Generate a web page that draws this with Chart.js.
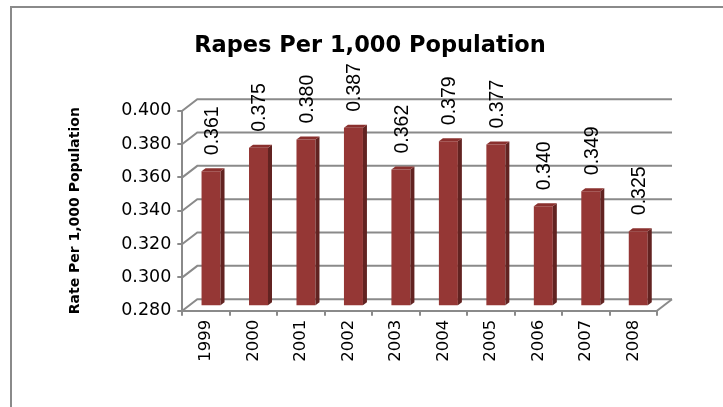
<!DOCTYPE html>
<html>
<head>
<meta charset="utf-8">
<title>Rapes Per 1,000 Population</title>
<script src="https://cdn.jsdelivr.net/npm/chart.js@4/dist/chart.umd.min.js"></script>
<style>
  html, body { margin: 0; padding: 0; background: #fff; overflow: hidden; }
  #frame {
    position: absolute; left: 10px; top: 6px; width: 800px; height: 500px;
    border: 2px solid #8a8a8a; box-sizing: border-box;
  }
  #chart { position: absolute; left: 0; top: 0; }
</style>
</head>
<body>
<div id="frame"></div>
<canvas id="chart" width="723" height="407"></canvas>
<script>
// Annual rate per 1,000 population
const years = ['1999', '2000', '2001', '2002', '2003', '2004', '2005', '2006', '2007', '2008'];
const rates = [0.361, 0.375, 0.380, 0.387, 0.362, 0.379, 0.377, 0.340, 0.349, 0.325];

// Value axis range and step
const yMin = 0.28;
const yMax = 0.40;
const yStep = 0.02;

// Pseudo-3D geometry
const WALL = { x: 15, y: -11.5 };      // offset from front plane to back wall
const BAR_SHIFT = { x: 5, y: -4.5 };   // bars stand part-way into the floor
const BAR_DEPTH = { x: 4, y: -3 };     // thickness of each bar
const GRID = '#8a8a8a';
const FRONT = '#953735';
const SIDE = '#622321';
const TOP = '#8a302e';

const wall3d = {
  id: 'wall3d',
  beforeDatasetsDraw(chart) {
    const { ctx, chartArea: { left, right, bottom }, scales: { y } } = chart;
    ctx.save();
    ctx.strokeStyle = GRID;
    ctx.lineWidth = 2;
    y.ticks.forEach(t => {
      const py = y.getPixelForValue(t.value);
      ctx.beginPath();
      ctx.moveTo(left, py);
      ctx.lineTo(left + WALL.x, py + WALL.y);
      ctx.lineTo(right + WALL.x, py + WALL.y);
      ctx.stroke();
    });
    ctx.beginPath();
    ctx.moveTo(right, bottom);
    ctx.lineTo(right + WALL.x, bottom + WALL.y);
    ctx.stroke();
    ctx.restore();
  },
  beforeDatasetDraw(chart) {
    chart.ctx.save();
    chart.ctx.translate(BAR_SHIFT.x, BAR_SHIFT.y);
  },
  afterDatasetDraw(chart, args) {
    const ctx = chart.ctx;
    args.meta.data.forEach(bar => {
      const { x, y, base, width } = bar.getProps(['x', 'y', 'base', 'width'], true);
      const l = x - width / 2, r = x + width / 2;
      // side face
      ctx.fillStyle = SIDE;
      ctx.beginPath();
      ctx.moveTo(r, y);
      ctx.lineTo(r + BAR_DEPTH.x, y + BAR_DEPTH.y);
      ctx.lineTo(r + BAR_DEPTH.x, base + BAR_DEPTH.y);
      ctx.lineTo(r, base);
      ctx.closePath();
      ctx.fill();
      // top face
      ctx.fillStyle = TOP;
      ctx.beginPath();
      ctx.moveTo(l, y);
      ctx.lineTo(l + BAR_DEPTH.x, y + BAR_DEPTH.y);
      ctx.lineTo(r + BAR_DEPTH.x, y + BAR_DEPTH.y);
      ctx.lineTo(r, y);
      ctx.closePath();
      ctx.fill();
    });
    ctx.restore();
  },
  afterDatasetsDraw(chart) {
    const ctx = chart.ctx;
    const meta = chart.getDatasetMeta(0);
    ctx.save();
    ctx.font = '19.5px "Liberation Sans", Arial, sans-serif';
    ctx.fillStyle = '#000';
    ctx.textAlign = 'left';
    ctx.textBaseline = 'middle';
    meta.data.forEach((bar, i) => {
      const v = chart.data.datasets[0].data[i];
      ctx.save();
      ctx.translate(bar.x + BAR_SHIFT.x + 1.5, bar.y + BAR_SHIFT.y - 16);
      ctx.rotate(-Math.PI / 2);
      ctx.fillText(v.toFixed(3), 0, 0);
      ctx.restore();
    });
    ctx.restore();
  }
};

new Chart(document.getElementById('chart'), {
  type: 'bar',
  data: {
    labels: years,
    datasets: [{
      data: rates,
      base: yMin,
      backgroundColor: FRONT,
      borderWidth: 0,
      categoryPercentage: 1,
      barPercentage: 0.4,
      clip: false
    }]
  },
  options: {
    responsive: false,
    animation: false,
    devicePixelRatio: 1,
    layout: { padding: { left: 17, right: 0, top: 0, bottom: 0 } },
    plugins: {
      legend: { display: false },
      tooltip: { enabled: false },
      title: {
        display: true,
        text: 'Rapes Per 1,000 Population',
        color: '#000',
        font: { family: '"DejaVu Sans", sans-serif', weight: 'bold', size: 22.5 },
        padding: { top: 32.7, bottom: 51 }
      }
    },
    scales: {
      x: {
        grid: {
          display: true, drawOnChartArea: false, drawTicks: true,
          tickLength: 5, color: GRID, lineWidth: 2
        },
        border: { display: true, color: GRID, width: 2 },
        ticks: {
          color: '#000', autoSkip: false, minRotation: 90, maxRotation: 90, padding: 4,
          font: { family: '"DejaVu Sans", sans-serif', size: 16.5 }
        },
        afterFit(s) { s.height = 96.3; }
      },
      y: {
        min: yMin,
        max: yMax,
        grid: {
          display: true, drawOnChartArea: false, drawTicks: true,
          tickLength: 5, color: GRID, lineWidth: 2
        },
        border: { display: true, color: GRID, width: 2 },
        ticks: {
          stepSize: yStep, color: '#000', padding: 6,
          font: { family: '"DejaVu Sans", sans-serif', size: 17.5 },
          callback: v => Number(v).toFixed(3)
        },
        title: {
          display: true,
          text: 'Rate Per 1,000 Population',
          color: '#000',
          font: { family: '"DejaVu Sans", sans-serif', weight: 'bold', size: 14 },
          padding: { top: 49.6, bottom: 0 }
        },
        afterFit(s) { s.width = 165.3; }
      },
      spacer: {
        type: 'linear',
        position: 'right',
        display: true,
        grid: { display: false },
        border: { display: false },
        ticks: { display: false },
        afterFit(s) { s.width = 66; }
      }
    }
  },
  plugins: [wall3d]
});
</script>
</body>
</html>
